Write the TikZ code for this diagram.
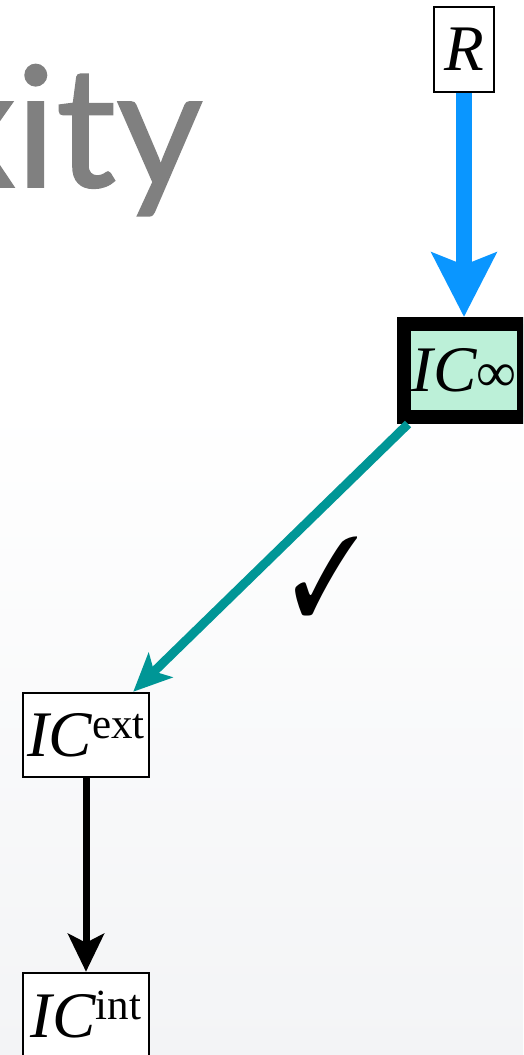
\documentclass[tikz,border=0pt]{standalone}
\usepackage{fontspec}
\usepackage{graphicx}
\setmainfont{Liberation Serif}
\newfontfamily\titlefont[FakeBold=1.0]{Lato}
\usepackage{pifont}
\usetikzlibrary{arrows.meta}
\definecolor{bluearrow}{RGB}{10,150,255}
\definecolor{tealarrow}{RGB}{0,150,150}
\definecolor{greenfill}{RGB}{188,240,216}
\definecolor{titlegray}{RGB}{128,128,128}
\definecolor{bggray}{RGB}{243,244,246}
\tikzset{
  box/.style={draw=black, rectangle, inner sep=0pt, line width=2.5pt, fill=white},
  bigfont/.style={font=\fontsize{65}{65}\selectfont},
}
\newcommand{\supx}[1]{\raisebox{18pt}{\fontsize{43}{43}\selectfont #1}}
\begin{document}
\begin{tikzpicture}[x=1pt,y=-1pt]
\useasboundingbox (0,0) rectangle (523,1055);
\fill[white] (0,0) rectangle (523,400);
\shade[top color=white, bottom color=bggray] (0,400) rectangle (523,1055);
\begin{scope}
\clip (0,0) rectangle (523,1055);
\node[anchor=base east, inner sep=0pt, text=titlegray, font=\titlefont\fontsize{168}{168}\selectfont] (title) at (203,187) {xity};
\node[box, line width=2pt, minimum width=60pt, minimum height=85pt, bigfont] (R) at (464,49.5) {\itshape R};
\node[box, line width=14pt, fill=greenfill, minimum width=120pt, minimum height=93pt, bigfont] (icinf) at (464,370.5) {\itshape IC\upshape\fontsize{56}{56}\selectfont ∞};
\node[box, minimum width=126pt, minimum height=84pt, bigfont] (icext) at (86,735) {\itshape IC\upshape\supx{ext}};
\node[box, minimum width=126pt, minimum height=84pt, bigfont] (icint) at (86,1015) {\itshape IC\upshape\supx{int}};
\draw[bluearrow, line width=16pt, -{Stealth[length=64pt,width=64pt,inset=12pt]}] (R.south) -- (icinf.north);
\draw[tealarrow, line width=9pt, -{Stealth[length=38pt,width=34pt,inset=9pt]}] ([xshift=11pt]icinf.south west) -- ([xshift=-17pt]icext.north east);
\draw[black, line width=7pt, -{Stealth[length=38pt,width=36pt,inset=9pt]}] (icext.south) -- (icint.north);
\node[inner sep=0pt] (check) at (327,576) {\resizebox{68pt}{78pt}{\ding{51}}};
\end{scope}
\end{tikzpicture}
\end{document}
